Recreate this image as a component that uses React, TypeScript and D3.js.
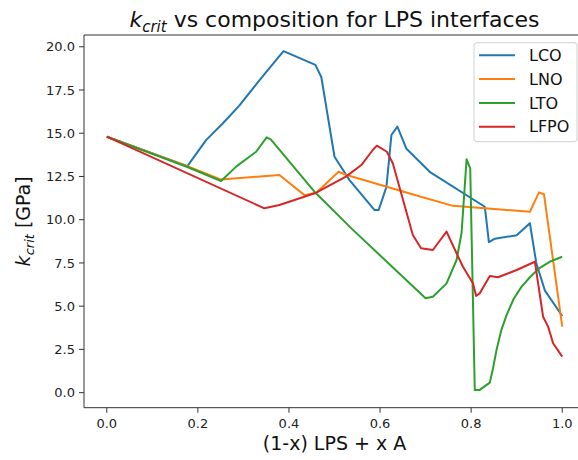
import * as d3 from "d3";

// composition x and k_crit (GPa)
const lco: [number, number][] = [
  [0, 14.8], [0.177, 13.1], [0.218, 14.6], [0.254, 15.55], [0.291, 16.6], [0.335, 18.05],
  [0.388, 19.75], [0.458, 18.95], [0.471, 18.25], [0.5, 13.64], [0.533, 12.29],
  [0.588, 10.56], [0.597, 10.56], [0.614, 11.9], [0.625, 14.9], [0.638, 15.38],
  [0.658, 14.1], [0.709, 12.77], [0.83, 10.75], [0.839, 8.7], [0.852, 8.9],
  [0.9, 9.1], [0.929, 9.8], [0.943, 7.5], [0.962, 5.9], [1.0, 4.43],
];
const lno: [number, number][] = [
  [0, 14.8], [0.177, 13.1], [0.25, 12.33], [0.379, 12.58], [0.434, 11.42], [0.46, 11.56],
  [0.509, 12.77], [0.525, 12.6], [0.665, 11.52], [0.76, 10.8], [0.83, 10.66],
  [0.929, 10.46], [0.949, 11.58], [0.96, 11.47], [1.0, 3.82],
];
const lto: [number, number][] = [
  [0, 14.8], [0.177, 13.05], [0.251, 12.24], [0.284, 13.07], [0.328, 13.93], [0.351, 14.76],
  [0.36, 14.65], [0.456, 11.62], [0.537, 9.5], [0.7, 5.46], [0.716, 5.55], [0.746, 6.32],
  [0.768, 7.67], [0.779, 9.23], [0.79, 13.49], [0.798, 12.97], [0.808, 0.16], [0.819, 0.16],
  [0.841, 0.58], [0.848, 1.4], [0.856, 2.5], [0.866, 3.6], [0.878, 4.5], [0.893, 5.4],
  [0.91, 6.1], [0.93, 6.7], [0.95, 7.2], [0.975, 7.6], [1.0, 7.86],
];
const lfpo: [number, number][] = [
  [0, 14.8], [0.346, 10.66], [0.379, 10.85], [0.46, 11.56], [0.525, 12.49], [0.559, 13.16],
  [0.584, 14.03], [0.593, 14.28], [0.615, 13.93], [0.628, 13.26], [0.672, 9.12],
  [0.69, 8.35], [0.716, 8.25], [0.727, 8.64], [0.746, 9.31], [0.768, 8.06], [0.782, 7.28],
  [0.804, 6.32], [0.811, 5.59], [0.819, 5.75], [0.841, 6.75], [0.859, 6.67], [0.9, 7.09],
  [0.94, 7.57], [0.958, 4.39], [0.969, 3.82], [0.98, 2.86], [1.0, 2.08],
];

const seriesNames = ["LCO", "LNO", "LTO", "LFPO"];
const seriesData = [lco, lno, lto, lfpo];
const colors = ["#1f77b4", "#ff7f0e", "#2ca02c", "#d62728"];
const xTicks = [0, 0.2, 0.4, 0.6, 0.8, 1.0];
const yTicks = [0, 2.5, 5, 7.5, 10, 12.5, 15, 17.5, 20];

const W = 578;
const H = 460;
const left = 84, right = 585, top = 35, bottom = 407.7;
const font = "DejaVu Sans, sans-serif";

const App = () => {
  const x = d3.scaleLinear().domain([-0.05, 1.05]).range([left, right]);
  const y = d3.scaleLinear().domain([-0.87, 20.68]).range([bottom, top]);
  const line = d3.line<[number, number]>().x(d => x(d[0])).y(d => y(d[1]));

  return (
    <svg width={W} height={H} style={{ position: "absolute", left: 0, top: 0, background: "#fff" }}
      fontFamily={font}>
      <defs>
        <clipPath id="plot"><rect x={left} y={top} width={right - left} height={bottom - top} /></clipPath>
      </defs>

      <text x={(left + right) / 2} y={27} textAnchor="middle" fontSize={22} fill="#111">
        <tspan fontStyle="italic">k</tspan>
        <tspan fontStyle="italic" fontSize={15} dy={5}>crit</tspan>
        <tspan dy={-5}> vs composition for LPS interfaces</tspan>
      </text>

      <g clipPath="url(#plot)">
        {seriesData.map((d, i) => (
          <path key={seriesNames[i]} d={line(d) ?? ""} fill="none" stroke={colors[i]}
            strokeWidth={2} strokeLinejoin="round" />
        ))}
      </g>

      {/* spines */}
      <g stroke="#333" strokeWidth={1}>
        <line x1={left} x2={left} y1={top} y2={bottom} />
        <line x1={left} x2={right} y1={bottom} y2={bottom} />
        <line x1={left} x2={right} y1={top} y2={top} />
      </g>

      {xTicks.map(t => (
        <g key={"x" + t} transform={`translate(${x(t)},${bottom})`}>
          <line y2={5} stroke="#333" />
          <text y={20} textAnchor="middle" fontSize={13} fill="#222">{t.toFixed(1)}</text>
        </g>
      ))}
      {yTicks.map(t => (
        <g key={"y" + t} transform={`translate(${left},${y(t)})`}>
          <line x2={-5} stroke="#333" />
          <text x={-9} dy="0.35em" textAnchor="end" fontSize={13} fill="#222">{t.toFixed(1)}</text>
        </g>
      ))}

      <text x={(left + right) / 2} y={450} textAnchor="middle" fontSize={19} fill="#111">
        (1-x) LPS + x A
      </text>
      <text transform={`translate(30,${(top + bottom) / 2}) rotate(-90)`} textAnchor="middle"
        fontSize={19} fill="#111">
        <tspan fontStyle="italic">k</tspan>
        <tspan fontStyle="italic" fontSize={13} dy={4}>crit</tspan>
        <tspan dy={-4}> [GPa]</tspan>
      </text>

      {/* legend */}
      <g>
        <rect x={474} y={42.7} width={103} height={99} rx={3} fill="#fff" fillOpacity={0.8}
          stroke="#d0d0d0" />
        {seriesNames.map((n, i) => (
          <g key={n} transform={`translate(479,${55.3 + i * 23.8})`}>
            <line x2={36} stroke={colors[i]} strokeWidth={2} />
            <text x={50} dy="0.35em" fontSize={16} fill="#111">{n}</text>
          </g>
        ))}
      </g>
    </svg>
  );
};

export default App;
